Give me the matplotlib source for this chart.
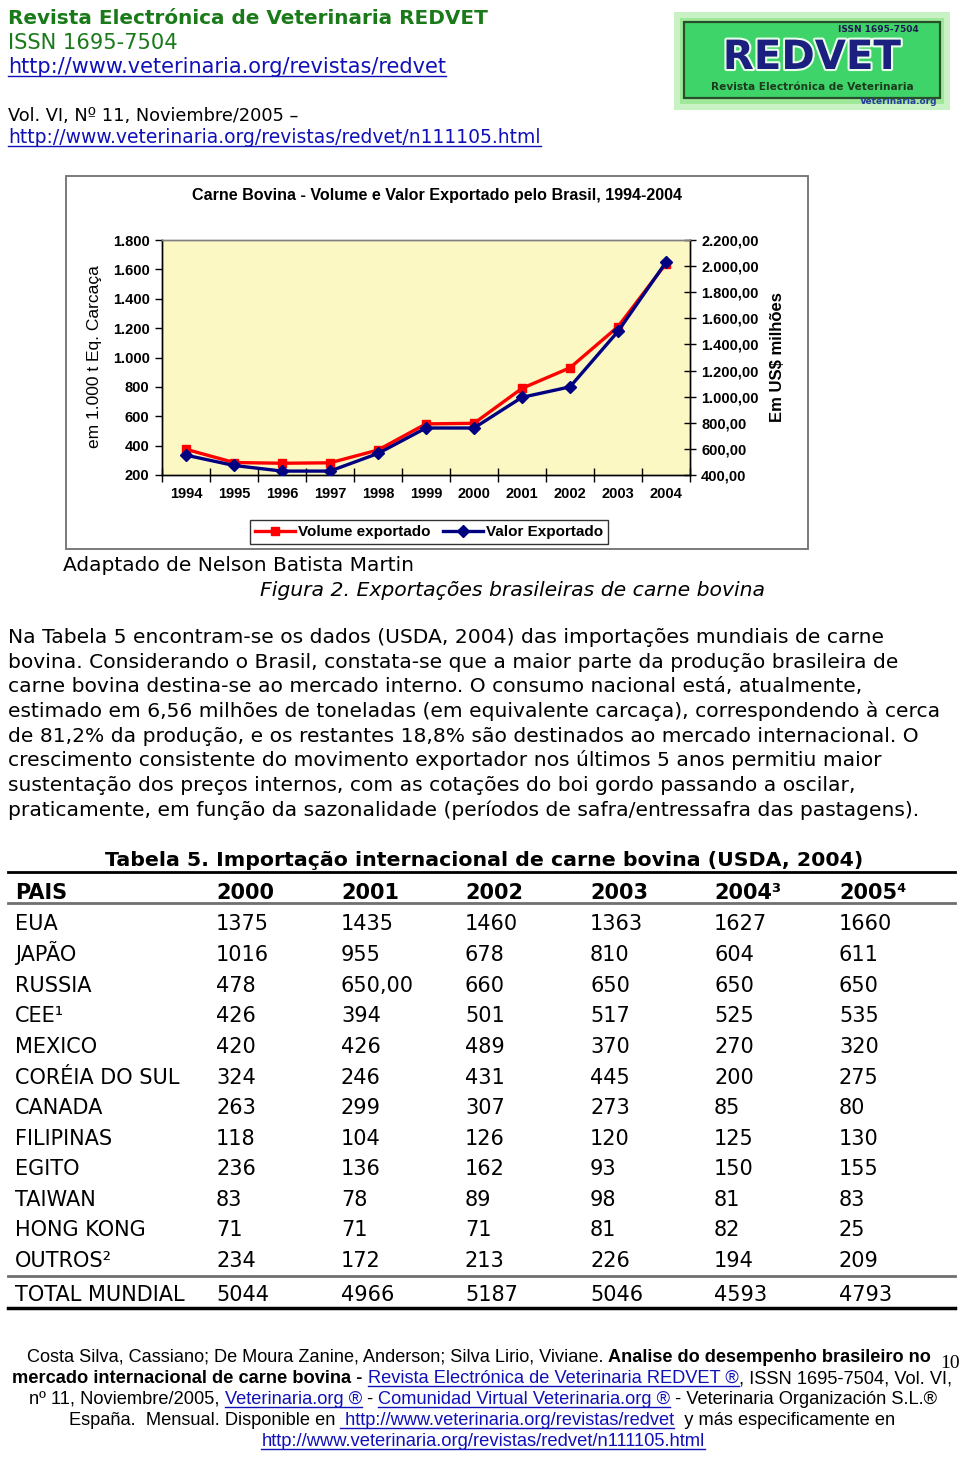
import numpy as np
import matplotlib
matplotlib.use("Agg")
import matplotlib.pyplot as plt
import matplotlib.patheffects as pe
from matplotlib import font_manager
from matplotlib.lines import Line2D
from matplotlib.patches import Rectangle

W, H, DPI = 960, 1457, 100

# Figure 2: Brazilian beef exports
years = ["1994", "1995", "1996", "1997", "1998", "1999",
         "2000", "2001", "2002", "2003", "2004"]
volume_kt = [375, 285, 280, 283, 370, 548, 552, 790, 930, 1210, 1640]
valor_musd = [552, 473, 430, 430, 565, 760, 760, 995, 1075, 1500, 2030]

# Table 5
table_title = "Tabela 5. Importação internacional de carne bovina (USDA, 2004)"
table_cols = ["PAIS", "2000", "2001", "2002", "2003", "2004³", "2005⁴"]
paises = ["EUA", "JAPÃO", "RUSSIA", "CEE¹", "MEXICO", "CORÉIA DO SUL",
          "CANADA", "FILIPINAS", "EGITO", "TAIWAN", "HONG KONG", "OUTROS²"]
imports = [
    ["1375", "1435", "1460", "1363", "1627", "1660"],
    ["1016", "955", "678", "810", "604", "611"],
    ["478", "650,00", "660", "650", "650", "650"],
    ["426", "394", "501", "517", "525", "535"],
    ["420", "426", "489", "370", "270", "320"],
    ["324", "246", "431", "445", "200", "275"],
    ["263", "299", "307", "273", "85", "80"],
    ["118", "104", "126", "120", "125", "130"],
    ["236", "136", "162", "93", "150", "155"],
    ["83", "78", "89", "98", "81", "83"],
    ["71", "71", "71", "81", "82", "25"],
    ["234", "172", "213", "226", "194", "209"],
]
total_label = "TOTAL MUNDIAL"
total_row = ["5044", "4966", "5187", "5046", "4593", "4793"]

paragraph = [
    "Na Tabela 5 encontram-se os dados (USDA, 2004) das importações mundiais de carne",
    "bovina. Considerando o Brasil, constata-se que a maior parte da produção brasileira de",
    "carne bovina destina-se ao mercado interno. O consumo nacional está, atualmente,",
    "estimado em 6,56 milhões de toneladas (em equivalente carcaça), correspondendo à cerca",
    "de 81,2% da produção, e os restantes 18,8% são destinados ao mercado internacional. O",
    "crescimento consistente do movimento exportador nos últimos 5 anos permitiu maior",
    "sustentação dos preços internos, com as cotações do boi gordo passando a oscilar,",
    "praticamente, em função da sazonalidade (períodos de safra/entressafra das pastagens).",
]

GREEN = "#1a7a1a"
LINK = "#1010b8"
RED = "#ff0000"
NAVY = "#000080"

avail = {f.name for f in font_manager.fontManager.ttflist}
NARROW = "Liberation Sans Narrow" if "Liberation Sans Narrow" in avail else "Liberation Sans"
BODY = "DejaVu Sans"

fig = plt.figure(figsize=(W / DPI, H / DPI), dpi=DPI)
fig.patch.set_facecolor("white")
renderer = fig.canvas.get_renderer()


def fx(x):
    return x / W


def fy(y):
    return 1 - y / H


def text_width(s, **kw):
    # the "|" trick keeps trailing spaces in the measurement
    t = fig.text(0, 0, s + "|", **kw)
    b = fig.text(0, 0, "|", **kw)
    w = t.get_window_extent(renderer).width - b.get_window_extent(renderer).width
    t.remove()
    b.remove()
    return w


def style_kw(st, size, family):
    d = dict(fontsize=size, family=family, color="black")
    if "b" in st:
        d["weight"] = "bold"
    if "i" in st:
        d["style"] = "italic"
    if "u" in st:
        d["color"] = LINK
    if "g" in st:
        d["color"] = GREEN
    return d


def put_line(x, y, runs, size, family=BODY, width=None, align="left"):
    """Draw a line made of styled runs; optionally scale it to a pixel width."""
    if width:
        total = sum(text_width(s, **style_kw(st, size, family)) for s, st in runs)
        size = size * width / total
    widths = [text_width(s, **style_kw(st, size, family)) for s, st in runs]
    total = sum(widths)
    x0 = {"left": x, "center": x - total / 2, "right": x - total}[align]
    for (s, st), w in zip(runs, widths):
        fig.text(fx(x0), fy(y), s, va="baseline", **style_kw(st, size, family))
        if "u" in st:
            fig.add_artist(Line2D([fx(x0), fx(x0 + w)], [fy(y + 3)] * 2,
                                  color=LINK, lw=1))
        x0 += w
    return size


# ---------------- header ----------------
put_line(8, 24, [("Revista Electrónica de Veterinaria REDVET", "bg")], 15, width=482)
put_line(8, 49, [("ISSN 1695-7504", "g")], 15, width=170)
put_line(8, 73, [("http://www.veterinaria.org/revistas/redvet", "u")], 15, width=440)
put_line(8, 121, [("Vol. VI, Nº 11, Noviembre/2005 –", "")], 15, width=290)
put_line(8, 143, [("http://www.veterinaria.org/revistas/redvet/n111105.html", "u")], 15, width=533)

# logo
lg = fig.add_axes([fx(670), fy(114), (954 - 670) / W, (114 - 6) / H])
lg.set_xlim(670, 954)
lg.set_ylim(114, 6)
lg.axis("off")
lg.add_patch(Rectangle((674, 12), 276, 98, facecolor="#c9f2c4", edgecolor="none"))
lg.add_patch(Rectangle((680, 18), 264, 86, facecolor="#9fe89a", edgecolor="none"))
lg.add_patch(Rectangle((684, 22), 256, 76, facecolor="#3fd46a",
                       edgecolor="#27502a", lw=1.6))
lg.text(878, 30, "ISSN 1695-7504", ha="center", va="center",
        fontsize=6.5, weight="bold", color="#1b1b50")
lg.text(812, 58, "REDVET", ha="center", va="center", fontsize=29,
        weight="bold", color="#1b2080",
        path_effects=[pe.withStroke(linewidth=3, foreground="#e8ffe8")])
t = lg.text(812, 87, "Revista Electrónica de Veterinaria", ha="center", va="center",
            fontsize=8, weight="bold", color="#1c3a1c")
t.set_fontsize(8 * 200 / t.get_window_extent(renderer).width)
lg.text(899, 102, "Veterinaria.org", ha="center", va="center",
        fontsize=6.5, weight="bold", color="#2b3b9e")

# ---------------- chart ----------------
fig.add_artist(Rectangle((fx(66), fy(549)), (808 - 66) / W, (549 - 176) / H,
                         transform=fig.transFigure, fill=False,
                         edgecolor="#6f6f6f", lw=1.3))
put_line(437, 200, [("Carne Bovina - Volume e Valor Exportado pelo Brasil, 1994-2004", "b")],
         11, family=NARROW, width=491, align="center")

ax = fig.add_axes([fx(162), fy(475), 528 / W, 235 / H])
ax.set_facecolor("#fcf8c4")
x = np.arange(len(years))
l1, = ax.plot(x, volume_kt, color=RED, lw=2.4, marker="s", ms=6,
              label="Volume exportado", zorder=3)
ax2 = ax.twinx()
l2, = ax2.plot(x, valor_musd, color=NAVY, lw=2.4, marker="D", ms=6,
               label="Valor Exportado", zorder=3)

ax.set_xlim(-0.5, len(years) - 0.5)
ax.set_ylim(200, 1800)
ax2.set_ylim(400, 2200)
ax.set_yticks(np.arange(200, 1801, 200))
ax.set_yticklabels([f"{v:,}".replace(",", ".") for v in range(200, 1801, 200)])
ax2.set_yticks(np.arange(400, 2201, 200))
ax2.set_yticklabels([f"{v:,.2f}".replace(",", "X").replace(".", ",").replace("X", ".")
                     for v in range(400, 2201, 200)])
ax.set_xticks(np.arange(-0.5, len(years), 1))
ax.set_xticklabels([])
ax.set_xticks(x, minor=True)
ax.set_xticklabels(years, minor=True)

tick_font = dict(family=NARROW, weight="bold", size=10.5)
for lab in ax.get_yticklabels() + ax2.get_yticklabels() + ax.get_xticklabels(minor=True):
    lab.set_fontproperties(font_manager.FontProperties(**tick_font))
ax.tick_params(axis="y", direction="out", length=5, width=1, pad=4)
ax2.tick_params(axis="y", direction="inout", length=8, width=1, pad=4)
ax.tick_params(axis="x", which="major", direction="inout", length=10, width=1)
ax.tick_params(axis="x", which="minor", length=0, pad=9)
for a in (ax, ax2):
    for sp in a.spines.values():
        sp.set_color("black")
        sp.set_linewidth(1)
    a.spines["top"].set_color("#808080")

fig.text(fx(95), fy(357), "em 1.000 t Eq. Carcaça", rotation=90, ha="center",
         va="center", family="Liberation Sans", fontsize=12.5)
fig.text(fx(777), fy(357), "Em US$ milhões", rotation=90, ha="center",
         va="center", family="Liberation Sans", weight="bold", fontsize=12)

leg = fig.legend([l1, l2], [l1.get_label(), l2.get_label()], loc="center",
                 bbox_to_anchor=(fx(429), fy(532)), ncol=2, frameon=True,
                 fancybox=False, edgecolor="black", handlelength=2.6,
                 handletextpad=0.2, columnspacing=0.8, borderpad=0.35,
                 prop=font_manager.FontProperties(family=NARROW, weight="bold", size=11))
leg.get_frame().set_linewidth(1)

put_line(63, 571, [("Adaptado de Nelson Batista Martin", "")], 13, width=351)
put_line(260, 596, [("Figura 2. Exportações brasileiras de carne bovina", "i")], 13, width=502)

# ---------------- paragraph ----------------
body_size = 13 * 930 / text_width(paragraph[3], fontsize=13, family=BODY)
for i, line in enumerate(paragraph):
    put_line(8, 643 + i * 24.7, [(line, "")], body_size)

# ---------------- table ----------------
put_line(484, 866, [(table_title, "b")], 13, width=752, align="center")
col_x = [15, 216, 341, 465, 590, 714, 839]
tab_size = 13 * 170 / text_width(total_label, fontsize=13, family=BODY)
for cx, c in zip(col_x, table_cols):
    fig.text(fx(cx), fy(899), c, va="baseline", fontsize=tab_size, family=BODY,
             weight="bold")
row_y = [930.5 + i * 30.6 for i in range(len(paises))]
for ry, p, vals in zip(row_y, paises, imports):
    for cx, s in zip(col_x, [p] + vals):
        fig.text(fx(cx), fy(ry), s, va="baseline", fontsize=tab_size, family=BODY)
for cx, s in zip(col_x, [total_label] + total_row):
    fig.text(fx(cx), fy(1301), s, va="baseline", fontsize=tab_size, family=BODY)

for yy, col, lw in [(872, "black", 2), (903, "#707070", 2),
                    (1276, "#707070", 2), (1308, "black", 2.5)]:
    fig.add_artist(Line2D([fx(8), fx(955)], [fy(yy)] * 2, color=col, lw=lw))

# ---------------- footer ----------------
put_line(479, 1362, [("Costa Silva, Cassiano; De Moura Zanine, Anderson; Silva Lirio, Viviane. ", ""),
                     ("Analise do desempenho brasileiro no", "b")],
         12, family=NARROW, width=904, align="center")
put_line(482, 1383, [("mercado internacional de carne bovina - ", "b"),
                     ("Revista Electrónica de Veterinaria REDVET ®", "u"),
                     (", ISSN 1695-7504, Vol. VI,", "")],
         12, family=NARROW, width=940, align="center")
put_line(483, 1404, [("nº 11, Noviembre/2005, ", ""), ("Veterinaria.org ®", "u"),
                     (" - ", ""), ("Comunidad Virtual Veterinaria.org ®", "u"),
                     (" - Veterinaria Organización S.L.®", "")],
         12, family=NARROW, width=912, align="center")
put_line(482, 1425, [("España.  Mensual. Disponible en ", ""),
                     (" http://www.veterinaria.org/revistas/redvet", "u"),
                     ("  y más especificamente en", "")],
         12, family=NARROW, width=829, align="center")
put_line(483, 1446, [("http://www.veterinaria.org/revistas/redvet/n111105.html", "u")],
         12, family=NARROW, width=445, align="center")
fig.text(fx(940), fy(1368), "10", va="baseline", family="Liberation Serif", fontsize=14)

fig.savefig("out.png", dpi=DPI)
